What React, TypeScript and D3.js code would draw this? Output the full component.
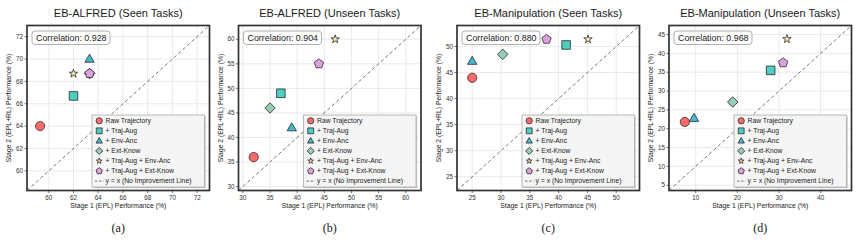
import React from "react";
import * as d3 from "d3";

// ---------- data ----------
const methods = [
  "Raw Trajectory",
  "+ Traj-Aug",
  "+ Env-Anc",
  "+ Ext-Know",
  "+ Traj-Aug + Env-Anc",
  "+ Traj-Aug + Ext-Know",
];
const methodColors = ["#ff6b6b", "#4ecdc4", "#45b7d1", "#96ceb4", "#ffeaa7", "#dda0dd"];
const identityLabel = "y = x (No Improvement Line)";

const panelTitles = [
  "EB-ALFRED (Seen Tasks)",
  "EB-ALFRED (Unseen Tasks)",
  "EB-Manipulation (Seen Tasks)",
  "EB-Manipulation (Unseen Tasks)",
];
const panelCaptions = ["(a)", "(b)", "(c)", "(d)"];
const correlations = ["0.928", "0.904", "0.880", "0.968"];

const stage1A = [59.3, 62.0, 63.3, 63.3, 62.0, 63.3];
const stage2A = [64.0, 66.7, 70.0, 68.7, 68.7, 68.7];
const stage1B = [32, 37, 39, 35, 47, 44];
const stage2B = [36, 49, 42, 46, 60, 55];
const stage1C = [25, 41.3, 25, 30.3, 45.1, 37.9];
const stage2C = [44, 50.3, 47.2, 48.5, 51.4, 51.4];
const stage1D = [7.4, 28.0, 9.6, 18.9, 31.9, 31.0];
const stage2D = [21.8, 35.5, 22.8, 27.1, 43.8, 37.5];
const stage1 = [stage1A, stage1B, stage1C, stage1D];
const stage2 = [stage2A, stage2B, stage2C, stage2D];

const domains = [
  [58.24, 73.0],
  [29.2, 62.8],
  [22.36, 54.04],
  [3.6, 47.4],
];
const xTicks = [
  [60, 62, 64, 66, 68, 70, 72],
  [30, 35, 40, 45, 50, 55, 60],
  [25, 30, 35, 40, 45, 50],
  [10, 20, 30, 40],
];
const yTicks = [
  [60, 62, 64, 66, 68, 70, 72],
  [30, 35, 40, 45, 50, 55, 60],
  [25, 30, 35, 40, 45, 50],
  [5, 10, 15, 20, 25, 30, 35, 40, 45],
];
const xLabel = "Stage 1 (EPL) Performance (%)";
const yLabel = "Stage 2 (EPL+RL) Performance (%)";

// ---------- layout ----------
const W = 859;
const H = 242;
const plotLefts = [27, 238.5, 457, 669];
const plotW = 182.5;
const plotTop = 25.5;
const plotBottom = 190.5;
const sans = "'Liberation Sans', Arial, Helvetica, sans-serif";
const serif = "'Liberation Serif', 'Times New Roman', serif";

function pentagonPath(r: number) {
  const pts: [number, number][] = d3.range(5).map((k) => {
    const a = -Math.PI / 2 + (k * 2 * Math.PI) / 5;
    return [r * Math.cos(a), r * Math.sin(a)];
  });
  return (d3.line()(pts) || "") + "Z";
}

function Marker({ i, x, y, s }: { i: number; x: number; y: number; s: number }) {
  const common = {
    fill: methodColors[i],
    stroke: "#2b2b2b",
    strokeWidth: 0.8,
  };
  let d = "";
  let rot = 0;
  let dy = 0;
  switch (i) {
    case 0:
      d = d3.symbol(d3.symbolCircle, Math.PI * Math.pow(4.6 * s, 2))() || "";
      break;
    case 1:
      d = d3.symbol(d3.symbolSquare, Math.pow(8.6 * s, 2))() || "";
      break;
    case 2:
      d = d3.symbol(d3.symbolTriangle, 38 * s * s)() || "";
      dy = 0.5 * s;
      break;
    case 3:
      d = d3.symbol(d3.symbolSquare, Math.pow(7.4 * s, 2))() || "";
      rot = 45;
      break;
    case 4:
      d = d3.symbol(d3.symbolStar, 22 * s * s)() || "";
      break;
    case 5:
      d = pentagonPath(4.9 * s);
      break;
  }
  return <path d={d} transform={`translate(${x},${y + dy}) rotate(${rot})`} {...common} />;
}

function Panel({ p }: { p: number }) {
  const left = plotLefts[p];
  const right = left + plotW;
  const x = d3.scaleLinear().domain(domains[p]).range([left, right]);
  const y = d3.scaleLinear().domain(domains[p]).range([plotBottom, plotTop]);
  const cx = (left + right) / 2;
  const cy = (plotTop + plotBottom) / 2;
  const legW = 112.5;
  const legH = 72;
  const legX = right - 5 - legW;
  const legY = plotBottom - 3.5 - legH;
  const rowH = 10.05;
  const order = [0, 1, 2, 3, 4, 5];
  return (
    <g>
      <text x={cx} y={16.5} textAnchor="middle" fontFamily={sans} fontSize={11} fill="#1a1a1a">
        {panelTitles[p]}
      </text>
      <rect x={left} y={plotTop} width={plotW} height={plotBottom - plotTop} fill="#ffffff" />
      {xTicks[p].map((t) => (
        <line key={"gx" + t} x1={x(t)} x2={x(t)} y1={plotTop} y2={plotBottom} stroke="#e4e4e4" strokeWidth={0.8} />
      ))}
      {yTicks[p].map((t) => (
        <line key={"gy" + t} x1={left} x2={right} y1={y(t)} y2={y(t)} stroke="#e4e4e4" strokeWidth={0.8} />
      ))}
      <line
        x1={x(domains[p][0])}
        y1={y(domains[p][0])}
        x2={x(domains[p][1])}
        y2={y(domains[p][1])}
        stroke="#6a6a6a"
        strokeWidth={0.9}
        strokeDasharray="3.5,2.5"
      />
      {order.map((i) => (
        <Marker key={"m" + i} i={i} x={x(stage1[p][i])} y={y(stage2[p][i])} s={1} />
      ))}
      {/* correlation box */}
      <rect x={left + 5} y={plotTop + 5.5} width={78} height={13.5} rx={3} fill="#ffffff" fillOpacity={0.85} stroke="#9a9a9a" strokeWidth={0.8} />
      <text x={left + 9} y={plotTop + 15.5} fontFamily={sans} fontSize={8.9} fill="#1a1a1a">
        {"Correlation: " + correlations[p]}
      </text>
      {/* legend */}
      <rect x={legX + 1.2} y={legY + 1.2} width={legW} height={legH} fill="#9a9a9a" fillOpacity={0.55} />
      <rect x={legX} y={legY} width={legW} height={legH} fill="#f5f5f5" stroke="#a8a8a8" strokeWidth={0.8} />
      {methods.map((m, i) => (
        <g key={"l" + i}>
          <Marker i={i} x={legX + 7.2} y={legY + 5.8 + i * rowH} s={0.68} />
          <text x={legX + 13.5} y={legY + 5.8 + i * rowH + 2.3} fontFamily={sans} fontSize={6.8} fill="#1a1a1a">
            {m}
          </text>
        </g>
      ))}
      <line
        x1={legX + 3}
        x2={legX + 11.5}
        y1={legY + 5.8 + 6 * rowH}
        y2={legY + 5.8 + 6 * rowH}
        stroke="#6a6a6a"
        strokeWidth={0.9}
        strokeDasharray="2.5,1.5"
      />
      <text x={legX + 13.5} y={legY + 5.8 + 6 * rowH + 2.3} fontFamily={sans} fontSize={6.8} fill="#1a1a1a">
        {identityLabel}
      </text>
      {/* frame */}
      <rect x={left} y={plotTop} width={plotW} height={plotBottom - plotTop} fill="none" stroke="#333333" strokeWidth={1.7} />
      {/* ticks */}
      {xTicks[p].map((t) => (
        <g key={"tx" + t}>
          <line x1={x(t)} x2={x(t)} y1={plotBottom} y2={plotBottom + 2.5} stroke="#333" strokeWidth={0.7} />
          <text x={x(t)} y={plotBottom + 9} textAnchor="middle" fontFamily={sans} fontSize={6.3} fill="#333">
            {t}
          </text>
        </g>
      ))}
      {yTicks[p].map((t) => (
        <g key={"ty" + t}>
          <line x1={left - 2.5} x2={left} y1={y(t)} y2={y(t)} stroke="#333" strokeWidth={0.7} />
          <text x={left - 4} y={y(t) + 2.2} textAnchor="end" fontFamily={sans} fontSize={6.3} fill="#333">
            {t}
          </text>
        </g>
      ))}
      <text x={cx} y={plotBottom + 17.5} textAnchor="middle" fontFamily={sans} fontSize={6.8} fill="#1a1a1a">
        {xLabel}
      </text>
      <text
        transform={`translate(${left - 16},${cy}) rotate(-90)`}
        textAnchor="middle"
        fontFamily={sans}
        fontSize={6.8}
        fill="#1a1a1a"
      >
        {yLabel}
      </text>
      <text x={cx} y={232} textAnchor="middle" fontFamily={serif} fontSize={12} fill="#1a1a1a">
        {panelCaptions[p]}
      </text>
    </g>
  );
}

export default function App() {
  return (
    <svg
      width={W}
      height={H}
      viewBox={`0 0 ${W} ${H}`}
      style={{ position: "absolute", left: 0, top: 0, background: "#ffffff" }}
    >
      <rect x={0} y={0} width={W} height={H} fill="#ffffff" />
      {[0, 1, 2, 3].map((p) => (
        <Panel key={p} p={p} />
      ))}
    </svg>
  );
}
